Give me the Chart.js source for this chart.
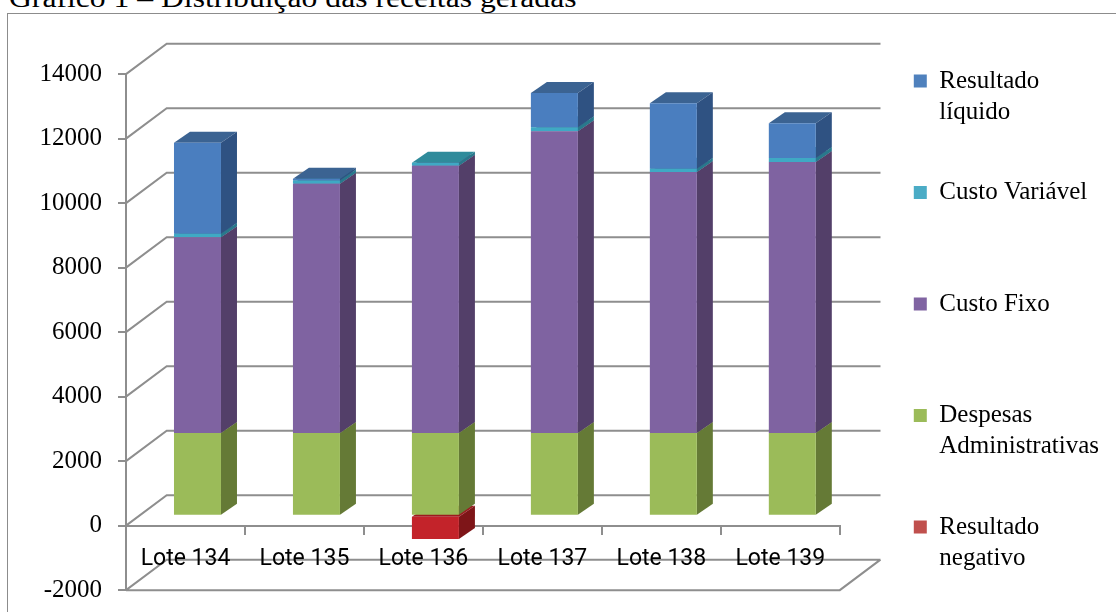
<!DOCTYPE html>
<html><head><meta charset="utf-8">
<script src="https://cdn.jsdelivr.net/npm/chart.js@4.4.1/dist/chart.umd.min.js"></script>
<style>
html,body{margin:0;padding:0;background:#fff;overflow:hidden;width:1116px;height:612px;}
#frame{position:absolute;left:7px;top:13px;width:1200px;height:700px;border:1.5px solid #8c8c8c;box-sizing:border-box;}
#title{position:absolute;left:9px;top:-16.5px;font-family:"Liberation Serif","Times New Roman",serif;font-size:28px;line-height:28px;white-space:nowrap;transform:scaleX(1.13);transform-origin:0 0;color:#000;}
#wrap{position:absolute;left:0;top:0;width:1116px;height:645px;}
</style></head><body>
<div id="frame"></div>
<div id="title">Gráfico 1 – Distribuição das receitas geradas</div>
<div id="wrap"><canvas id="c"></canvas></div>
<script>
// ---- data ----
const categories = ['Lote 134','Lote 135','Lote 136','Lote 137','Lote 138','Lote 139'];
const resultadoNegativo = [0, 0, -720, 0, 0, 0];
const despesasAdministrativas = [2560, 2560, 2560, 2560, 2560, 2560];
const custoFixo = [6075, 7730, 8290, 9360, 8095, 8405];
const custoVariavel = [105, 105, 95, 125, 105, 125];
const resultadoLiquido = [2820, 50, 0, 1065, 2030, 1080];
const yTickValues = [-2000, 0, 2000, 4000, 6000, 8000, 10000, 12000, 14000];
const seriesNames = ['Resultado negativo','Despesas Administrativas','Custo Fixo','Custo Variável','Resultado líquido'];
const legendLines = [['Resultado','negativo'],['Despesas','Administrativas'],['Custo Fixo',''],['Custo Variável',''],['Resultado','líquido']];
const seriesValues = [resultadoNegativo, despesasAdministrativas, custoFixo, custoVariavel, resultadoLiquido];

// ---- styles ----
const FRONT = ['#c3232a','#9bbb59','#7f63a1','#3fa9c4','#4a7ebf'];
const SIDE  = ['#7e1518','#657a36','#533f69','#28798c','#2f5282'];
const TOP   = ['#9c1b1f','#7d9847','#6a5289','#2f8b9b','#3b6392'];
const LEGEND= ['#c0504d','#9bbb59','#8064a2','#4bacc6','#4f81bd'];
const GRID = '#8e8e8e';
const BAR_SHIFT = {x: 12, y: -10};
const DEPTH = {x: 16, y: -11};
const WALL = {x: 40.7, y: -30.5};

const frame3d = {
  id: 'frame3d',
  beforeDraw(chart) {
    const {ctx, scales: {x, y}} = chart;
    const L = x.left, R = x.right;
    const vals = y.ticks.map(t => t.value);
    const top = y.getPixelForValue(Math.max(...vals));
    const bot = y.getPixelForValue(Math.min(...vals));
    ctx.save();
    ctx.strokeStyle = GRID; ctx.lineWidth = 2;
    ctx.beginPath();
    vals.forEach(v => {
      const py = y.getPixelForValue(v);
      ctx.moveTo(L, py); ctx.lineTo(L + WALL.x, py + WALL.y); ctx.lineTo(R + WALL.x, py + WALL.y);
    });
    ctx.moveTo(L, bot); ctx.lineTo(R, bot); ctx.lineTo(R + WALL.x, bot + WALL.y);
    ctx.moveTo(L, top); ctx.lineTo(L, bot);
    ctx.stroke();
    ctx.restore();
  },
  beforeDatasetsDraw(chart) {
    const ctx = chart.ctx;
    ctx.save();
    ctx.translate(BAR_SHIFT.x, BAR_SHIFT.y);
    chart.data.datasets.forEach((ds, di) => {
      const meta = chart.getDatasetMeta(di);
      if (meta.hidden) return;
      meta.data.forEach(bar => {
        const {x, y, base, width} = bar.getProps(['x','y','base','width'], true);
        if (Math.abs(base - y) < 0.5) return;
        const l = x - width / 2, r = x + width / 2, t = Math.min(y, base), b = Math.max(y, base);
        ctx.fillStyle = TOP[di];
        ctx.beginPath(); ctx.moveTo(l, t); ctx.lineTo(r, t); ctx.lineTo(r + DEPTH.x, t + DEPTH.y); ctx.lineTo(l + DEPTH.x, t + DEPTH.y); ctx.closePath(); ctx.fill();
        ctx.fillStyle = SIDE[di];
        ctx.beginPath(); ctx.moveTo(r, t); ctx.lineTo(r + DEPTH.x, t + DEPTH.y); ctx.lineTo(r + DEPTH.x, b + DEPTH.y); ctx.lineTo(r, b); ctx.closePath(); ctx.fill();
      });
    });
  },
  afterDatasetsDraw(chart) { chart.ctx.restore(); }
};

new Chart(document.getElementById('c'), {
  type: 'bar',
  data: {
    labels: categories,
    datasets: seriesValues.map((vals, i) => ({
      label: seriesNames[i], data: vals, backgroundColor: FRONT[i], borderWidth: 0,
      barPercentage: 0.395, categoryPercentage: 1
    }))
  },
  options: {
    responsive: true, maintainAspectRatio: false, animation: false, devicePixelRatio: 1,
    events: [],
    layout: {padding: {left: 0, top: 0, right: 7, bottom: 0}},
    scales: {
      x: {
        stacked: true, position: {y: 0},
        grid: {offset: true, drawOnChartArea: false, drawTicks: true, tickLength: 8, color: GRID, lineWidth: 2},
        border: {display: true, color: GRID, width: 2},
        ticks: {color: '#000', padding: 11.5, font: {family: 'Roboto', size: 23}, maxRotation: 0, autoSkip: false},
        afterFit(s) { s.paddingLeft = 0; s.paddingRight = 0; }
      },
      y: {
        stacked: true, min: -3700, max: 16300, position: 'left',
        afterBuildTicks(s) { s.ticks = yTickValues.map(v => ({value: v})); },
        afterFit(s) { s.width = 126; s.paddingTop = 0; s.paddingBottom = 0; },
        grid: {drawOnChartArea: false, drawTicks: true, tickLength: 8, color: GRID, lineWidth: 2},
        border: {display: false},
        ticks: {color: '#000', padding: 16, font: {family: 'Liberation Serif', size: 25}, callback: v => String(v)}
      },
      pad: {
        type: 'linear', position: 'right', display: false,
        afterFit(s) { s.width = 24.5; s.paddingTop = 0; s.paddingBottom = 0; }
      }
    },
    plugins: {
      tooltip: {enabled: false},
      legend: {
        position: 'right', reverse: true,
        labels: {
          boxWidth: 13, boxHeight: 13, padding: 49.5, color: '#000',
          font: {family: 'Liberation Serif', size: 25, lineHeight: '31px'},
          generateLabels(chart) {
            return chart.data.datasets.map((ds, i) => ({
              text: legendLines[i], fillStyle: LEGEND[i], strokeStyle: LEGEND[i],
              lineWidth: 0, hidden: false, datasetIndex: i, fontColor: '#000'
            }));
          }
        }
      }
    }
  },
  plugins: [frame3d]
});
</script>
</body></html>
